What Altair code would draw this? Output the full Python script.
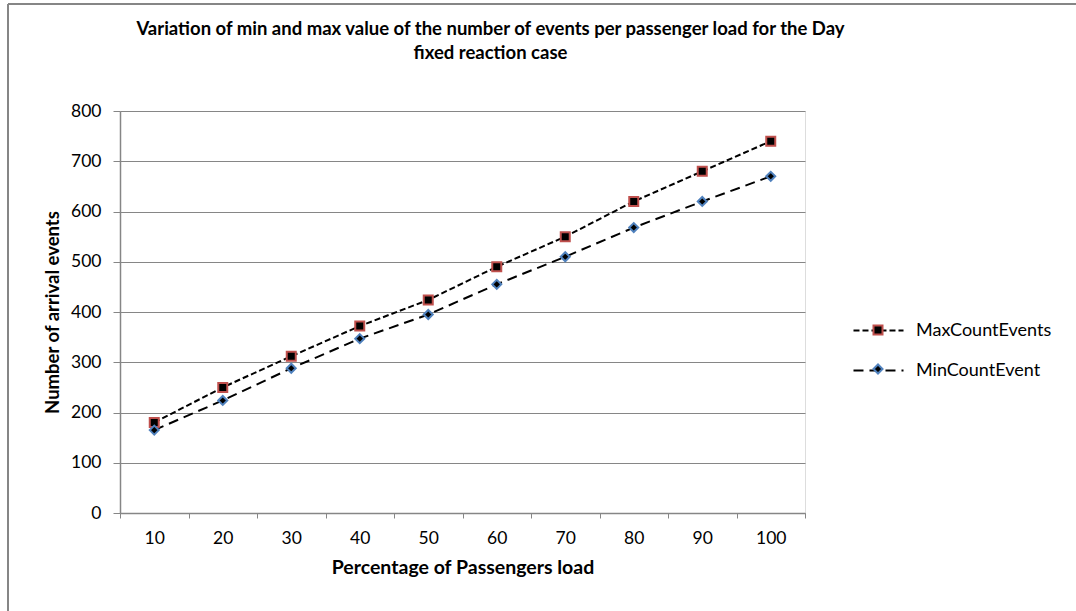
import altair as alt
import pandas as pd

pct = ["10", "20", "30", "40", "50", "60", "70", "80", "90", "100"]
max_events = [180, 250, 312, 372, 424, 490, 550, 620, 680, 740]
min_events = [165, 224, 288, 347, 395, 455, 510, 568, 620, 670]
series_names = ["MaxCountEvents", "MinCountEvent"]
y_ticks = [0, 100, 200, 300, 400, 500, 600, 700, 800]

rows = []
for p, mx, mn in zip(pct, max_events, min_events):
    rows.append({"pct": p, "value": mx, "series": series_names[0]})
    rows.append({"pct": p, "value": mn, "series": series_names[1]})
df = pd.DataFrame(rows)
df["marker"] = df["series"]

FONT = "Lato"
GRAY = "#868686"

x_enc = alt.X(
    "pct:O",
    sort=pct,
    bandPosition=0.5,
    scale=alt.Scale(type="band", paddingInner=0, paddingOuter=0),
    axis=alt.Axis(
        title="Percentage of Passengers load",
        titleFont=FONT, titleFontSize=19.5, titleFontWeight="bold", titleColor="black",
        titlePadding=12,
        labelFont=FONT, labelFontSize=17.5, labelColor="black", labelPadding=11,
        labelAngle=0,
        tickBand="extent", tickSize=5, tickColor=GRAY, domainColor=GRAY,
        domainWidth=1.5, grid=False,
    ),
)
y_enc = alt.Y(
    "value:Q",
    scale=alt.Scale(domain=[0, 800], nice=False),
    axis=alt.Axis(
        values=y_ticks,
        title="Number of arrival events",
        titleFont=FONT, titleFontSize=18.5, titleFontWeight="bold", titleColor="black",
        titlePadding=8,
        labelFont=FONT, labelFontSize=17.5, labelColor="black", labelPadding=12,
        tickSize=7, tickColor=GRAY, domainColor=GRAY, domainWidth=1.5,
        grid=True, gridColor=GRAY, gridWidth=1.2,
    ),
)

legend_lines = alt.Legend(
    title=None, orient="none", legendX=749, legendY=210, padding=0,
    symbolType="M-3,0H3", symbolSize=278, symbolStrokeColor="black",
    symbolStrokeWidth=2, symbolFillColor="transparent",
    labelFont=FONT, labelFontSize=18, labelColor="black", labelOffset=28,
    rowPadding=21,
)
legend_marks = alt.Legend(
    title=None, orient="none", legendX=749, legendY=210, padding=0,
    symbolSize=81, symbolStrokeWidth=2,
    labelFont=FONT, labelFontSize=18, labelExpr="''",
    rowPadding=21,
)

lines = alt.Chart(df).mark_line(color="black", strokeWidth=2).encode(
    x=x_enc,
    y=y_enc,
    strokeDash=alt.StrokeDash(
        "series:N",
        sort=series_names,
        scale=alt.Scale(range=[[6, 3], [10, 6]]),
        legend=legend_lines,
    ),
)

points = alt.Chart(df).mark_point(filled=True, size=81, strokeWidth=2, opacity=1).encode(
    x=x_enc,
    y=y_enc,
    shape=alt.Shape("marker:N", scale=alt.Scale(range=["square", "diamond"]), legend=legend_marks),
    fill=alt.Fill("marker:N", scale=alt.Scale(range=["black", "black"]), legend=legend_marks),
    stroke=alt.Stroke("marker:N", scale=alt.Scale(range=["#c0504d", "#4f81bd"]), legend=legend_marks),
)

frame_df = pd.DataFrame({"k": [0]})
frame_left = alt.Chart(frame_df).mark_rule(color=GRAY, strokeWidth=2).encode(
    x=alt.value(-112), y=alt.value(-107), y2=alt.value(520)
)
frame_top = alt.Chart(frame_df).mark_rule(color=GRAY, strokeWidth=2).encode(
    x=alt.value(-112), x2=alt.value(970), y=alt.value(-107)
)

chart = alt.layer(frame_left, frame_top, lines, points).properties(
    width=685,
    height=402,
    padding={"left": 120, "top": 111, "right": 271, "bottom": 98},
    autosize=alt.AutoSizeParams(type="none"),
    title=alt.Title(
        ["Variation of min and max value of the  number of events per passenger load for the Day",
         "fixed reaction case"],
        font=FONT, fontSize=18.5, fontWeight="bold", color="black",
        anchor="middle", frame="group", lineHeight=24, offset=0, dy=59, dx=28,
    ),
).configure_view(stroke=None).configure(background="white")

chart.save("out.html", embed_options={"renderer": "svg", "actions": False})
